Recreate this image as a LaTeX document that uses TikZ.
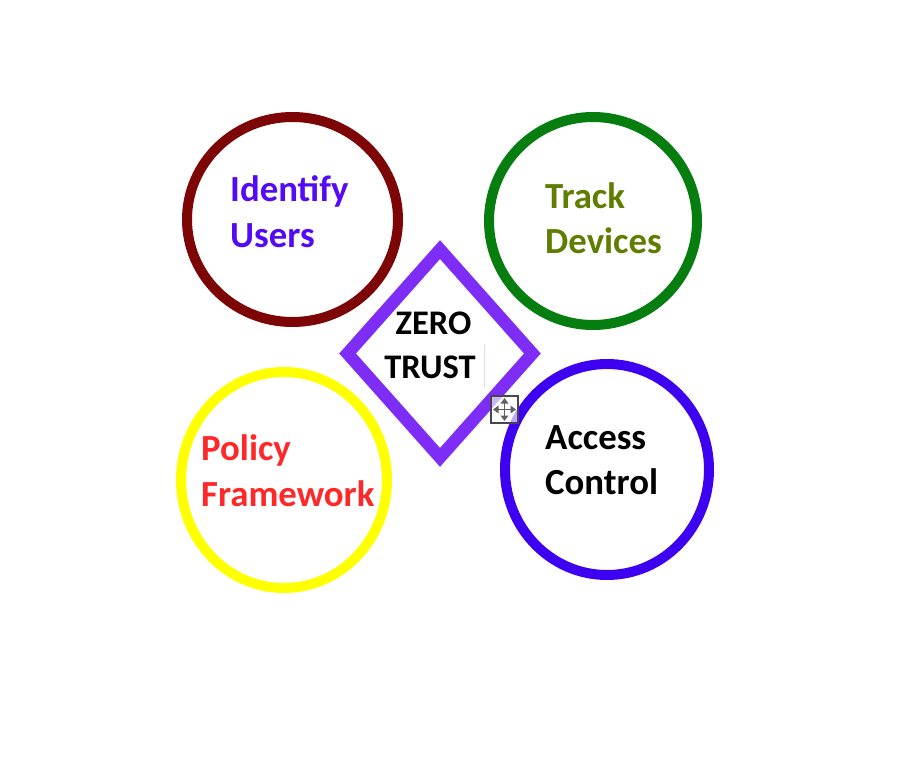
\documentclass[tikz,border=0pt]{standalone}
\usepackage{fontspec}
\setmainfont{Carlito}
\usetikzlibrary{shapes.geometric,arrows.meta}
\definecolor{cmaroon}{RGB}{125,5,5}
\definecolor{cgreen}{RGB}{5,125,15}
\definecolor{cyellow}{RGB}{255,255,0}
\definecolor{cblue}{RGB}{62,0,240}
\definecolor{cviolet}{RGB}{125,45,245}
\definecolor{tidentify}{RGB}{85,10,245}
\definecolor{ttrack}{RGB}{95,125,0}
\definecolor{tpolicy}{RGB}{255,40,40}
\definecolor{iconline}{RGB}{70,70,80}
\definecolor{iconarrow}{RGB}{95,95,100}
\begin{document}
\begin{tikzpicture}[x=1pt,y=-1pt,
  ring/.style={draw, ellipse, line width=10pt, inner sep=0pt},
  lbl/.style={font=\fontsize{36.8}{45}\selectfont\bfseries, inner sep=0pt, anchor=base west},
  clbl/.style={font=\fontsize{34.5}{45}\selectfont\bfseries, inner sep=0pt, anchor=base},
  movearrow/.style={iconarrow, line width=1.5pt, {Triangle[width=7.5pt,length=5.5pt]}-{Triangle[width=7.5pt,length=5.5pt]}},
]
\useasboundingbox[fill=white] (0,0) rectangle (923,767);
% circles
\node[ring, draw=cmaroon, minimum width=211pt, minimum height=205pt] (cid) at (292.5,219.5) {};
\node[ring, draw=cgreen, minimum width=208pt, minimum height=208pt] (ctr) at (593,221) {};
\node[ring, draw=cyellow, minimum width=206pt, minimum height=216pt] (cpo) at (284,480) {};
\node[ring, draw=cblue, minimum width=204pt, minimum height=211pt] (cac) at (607,469.5) {};
% diamond
\node[draw=cviolet, diamond, line width=12.5pt, miter limit=10, inner sep=0pt,
      minimum width=190pt, minimum height=213pt] (dz) at (440,353.5) {};
% labels
\node[lbl, text=tidentify] (id1) at (230,202) {Identify};
\node[lbl, text=tidentify] (id2) at (230,248) {Users};
\node[lbl, text=ttrack] (tr1) at (545,209) {Track};
\node[lbl, text=ttrack] (tr2) at (545,254) {Devices};
\node[lbl, text=tpolicy] (po1) at (201,460) {Policy};
\node[lbl, text=tpolicy] (po2) at (201,506) {Framework};
\node[lbl, text=black] (ac1) at (545,449) {Access};
\node[lbl, text=black] (ac2) at (545,494) {Control};
\node[clbl, text=black] (z1) at (433.5,334.5) {ZERO};
\node[clbl, text=black] (z2) at (430,378.5) {TRUST};
% text cursor
\coordinate (cur1) at (484,344);
\coordinate (cur2) at (484,388);
\draw[line width=0.8pt, color=black!20!violet!15] (cur1) -- (cur2);
% move icon
\coordinate (mi) at (504.5,409.5);
\fill[white, opacity=0.65] ([shift={(-13.5,-13.5)}]mi) rectangle ([shift={(13.5,13.5)}]mi);
\draw[iconline, line width=1.6pt] ([shift={(-13.5,-13.5)}]mi) rectangle ([shift={(13.5,13.5)}]mi);
\draw[movearrow] ([shift={(-11.5,0)}]mi) -- ([shift={(11.5,0)}]mi);
\draw[movearrow] ([shift={(0,-11.5)}]mi) -- ([shift={(0,11.5)}]mi);
\end{tikzpicture}
\end{document}
